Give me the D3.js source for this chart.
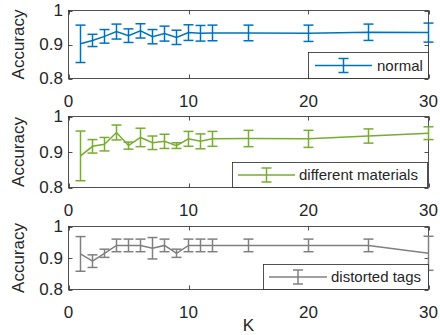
<!DOCTYPE html>
<html>
<head>
<meta charset="utf-8">
<script src="https://cdn.jsdelivr.net/npm/d3@7"></script>
<style>
  html, body { margin: 0; padding: 0; background: #fff; }
  text { font-family: "Liberation Sans", Arial, Helvetica, sans-serif; fill: #262626; }
</style>
</head>
<body>
<svg id="chart" width="440" height="335"></svg>
<script>
// K values on the x axis
const kValues = [1, 2, 3, 4, 5, 6, 7, 8, 9, 10, 11, 12, 15, 20, 25, 30];

// normal
const normalMean = [0.902, 0.912, 0.924, 0.938, 0.926, 0.940, 0.923, 0.932, 0.921, 0.935, 0.933, 0.934, 0.934, 0.933, 0.936, 0.935];
const normalErr  = [0.055, 0.018, 0.020, 0.022, 0.020, 0.021, 0.021, 0.022, 0.021, 0.023, 0.023, 0.023, 0.023, 0.024, 0.024, 0.028];

// different materials
const materialMean = [0.889, 0.916, 0.922, 0.955, 0.918, 0.941, 0.926, 0.930, 0.918, 0.937, 0.930, 0.937, 0.938, 0.937, 0.945, 0.953];
const materialErr  = [0.070, 0.019, 0.019, 0.021, 0.010, 0.026, 0.019, 0.020, 0.008, 0.021, 0.021, 0.021, 0.023, 0.024, 0.020, 0.018];

// distorted tags
const distortMean = [0.913, 0.890, 0.915, 0.940, 0.940, 0.940, 0.931, 0.940, 0.915, 0.940, 0.940, 0.940, 0.940, 0.940, 0.940, 0.915];
const distortErr  = [0.055, 0.020, 0.013, 0.020, 0.020, 0.020, 0.034, 0.020, 0.013, 0.020, 0.020, 0.020, 0.020, 0.020, 0.020, 0.054];

const xTicks = [0, 10, 20, 30];
const yTicks = [0.8, 0.9, 1];
const seriesNames = ["normal", "different materials", "distorted tags"];

const axisColor = "#262626";
const left = 68.5, right = 428.5;

const panels = [
  { top: 10.5, bottom: 78.5, mean: normalMean, err: normalErr, color: "#0072BD", name: seriesNames[0],
    legend: { x0: 308.5, x1: 428.5, y0: 52.5, y1: 78.5, l0: 315, l1: 372, tx: 377 } },
  { top: 116.5, bottom: 187.5, mean: materialMean, err: materialErr, color: "#77AC30", name: seriesNames[1],
    legend: { x0: 232.5, x1: 427.5, y0: 162.5, y1: 187.5, l0: 238, l1: 295, tx: 299 } },
  { top: 226.5, bottom: 289.5, mean: distortMean, err: distortErr, color: "#808080", name: seriesNames[2],
    legend: { x0: 263.5, x1: 428.5, y0: 264.5, y1: 289.5, l0: 269, l1: 327, tx: 331 } }
];

const svg = d3.select("#chart");
const x = d3.scaleLinear().domain([0, 30]).range([left, right]);
const capW = 5, tickLen = 4;

panels.forEach(p => {
  const y = d3.scaleLinear().domain([0.8, 1]).range([p.bottom, p.top]);
  const g = svg.append("g");
  const pts = kValues.map((k, i) => ({ k, m: p.mean[i], e: p.err[i] }));

  // box
  g.append("rect")
    .attr("x", left).attr("y", p.top)
    .attr("width", right - left).attr("height", p.bottom - p.top)
    .attr("fill", "none").attr("stroke", axisColor).attr("stroke-width", 0.8);

  // ticks (inside, mirrored)
  xTicks.forEach(t => {
    const xx = Math.round(x(t)) + 0.5;
    g.append("line").attr("x1", xx).attr("x2", xx).attr("y1", p.bottom).attr("y2", p.bottom - tickLen)
      .attr("stroke", axisColor).attr("stroke-width", 0.8);
    g.append("line").attr("x1", xx).attr("x2", xx).attr("y1", p.top).attr("y2", p.top + tickLen)
      .attr("stroke", axisColor).attr("stroke-width", 0.8);
    g.append("text").attr("x", x(t)).attr("y", p.bottom + 28)
      .attr("text-anchor", "middle").style("font-size", "17px").text(t);
  });
  yTicks.forEach(t => {
    const yy = Math.round(y(t)) + 0.5;
    g.append("line").attr("x1", left).attr("x2", left + tickLen).attr("y1", yy).attr("y2", yy)
      .attr("stroke", axisColor).attr("stroke-width", 0.8);
    g.append("line").attr("x1", right).attr("x2", right - tickLen).attr("y1", yy).attr("y2", yy)
      .attr("stroke", axisColor).attr("stroke-width", 0.8);
    g.append("text").attr("x", 63).attr("y", y(t)).attr("dy", "0.35em")
      .attr("text-anchor", "end").style("font-size", "17px").text(d3.format("~g")(t));
  });

  g.append("text")
    .attr("transform", `translate(18,${(p.top + p.bottom) / 2}) rotate(-90)`)
    .attr("text-anchor", "middle").attr("dy", "0.35em")
    .style("font-size", "17px").text("Accuracy");

  // mean line
  g.append("path")
    .datum(pts)
    .attr("d", d3.line().x(d => x(d.k)).y(d => y(d.m)))
    .attr("fill", "none").attr("stroke", p.color).attr("stroke-width", 1.5);

  // error bars
  const eb = g.selectAll(".eb").data(pts).enter().append("g");
  eb.append("line")
    .attr("x1", d => x(d.k)).attr("x2", d => x(d.k))
    .attr("y1", d => y(d.m - d.e)).attr("y2", d => y(d.m + d.e))
    .attr("stroke", p.color).attr("stroke-width", 1.5);
  [-1, 1].forEach(s => {
    eb.append("line")
      .attr("x1", d => x(d.k) - capW).attr("x2", d => x(d.k) + capW)
      .attr("y1", d => y(d.m + s * d.e)).attr("y2", d => y(d.m + s * d.e))
      .attr("stroke", p.color).attr("stroke-width", 1.5);
  });

  // legend
  const L = p.legend;
  const lg = svg.append("g");
  lg.append("rect").attr("x", L.x0).attr("y", L.y0)
    .attr("width", L.x1 - L.x0).attr("height", L.y1 - L.y0)
    .attr("fill", "#fff").attr("stroke", axisColor).attr("stroke-width", 0.8);
  const cy = (L.y0 + L.y1) / 2, cx = (L.l0 + L.l1) / 2;
  lg.append("line").attr("x1", L.l0).attr("x2", L.l1).attr("y1", cy).attr("y2", cy)
    .attr("stroke", p.color).attr("stroke-width", 1.5);
  lg.append("line").attr("x1", cx).attr("x2", cx).attr("y1", cy - 7).attr("y2", cy + 7)
    .attr("stroke", p.color).attr("stroke-width", 1.5);
  [-7, 7].forEach(o => {
    lg.append("line").attr("x1", cx - capW).attr("x2", cx + capW).attr("y1", cy + o).attr("y2", cy + o)
      .attr("stroke", p.color).attr("stroke-width", 1.5);
  });
  lg.append("text").attr("x", L.tx).attr("y", cy).attr("dy", "0.35em")
    .style("font-size", "15px").text(p.name);
});

svg.append("text").attr("x", (left + right) / 2).attr("y", 331)
  .attr("text-anchor", "middle").style("font-size", "17px").text("K");
</script>
</body>
</html>
